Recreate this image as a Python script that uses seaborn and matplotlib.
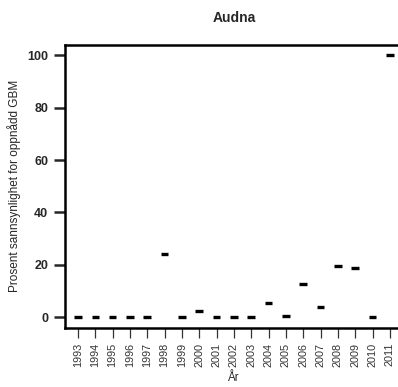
import pandas as pd
import matplotlib.pyplot as plt
import seaborn as sns

# data
years = [str(y) for y in range(1993, 2012)]
values = [0, 0, 0, 0, 0, 24.1, 0, 2.2, 0, 0, 0, 5.4, 0.6, 12.6, 4.0, 19.4, 18.9, 0, 100]

df = pd.DataFrame({"year": years, "value": values})

sns.set_style("white")
plt.rcParams["font.family"] = ["Liberation Sans", "DejaVu Sans"]

fig = plt.figure(figsize=(3.98, 3.87), dpi=100)
# axes runs past the right edge, like the cropped original
ax = fig.add_axes([0.1633, 0.1532, 0.849, 0.7313])

sns.boxplot(data=df, x="year", y="value", order=years, ax=ax,
            width=0.44, color="black", linewidth=0, fliersize=0,
            showcaps=False, whis=0,
            medianprops=dict(color="black", linewidth=2.4, solid_capstyle="butt"))

ax.set_xlim(-0.75, 18.75)
ax.set_ylim(-4, 104)
ax.set_yticks([0, 20, 40, 60, 80, 100])

for side in ["left", "bottom", "top", "right"]:
    ax.spines[side].set_visible(True)
    ax.spines[side].set_linewidth(1.8)
    ax.spines[side].set_color("black")

ax.tick_params(axis="y", length=8, width=1.8, labelsize=9, pad=4, left=True)
ax.tick_params(axis="x", length=7, width=0.9, labelsize=7.8, pad=4, bottom=True,
               rotation=90, colors="#333333")
for lab in ax.get_yticklabels():
    lab.set_fontweight("bold")

ax.set_xlabel("År", fontsize=8.3, va="bottom")
ax.xaxis.set_label_coords(0.5, -0.2)
ax.set_ylabel("Prosent sannsynlighet for oppnådd GBM", fontsize=8.5)
ax.yaxis.set_label_coords(-0.13, 0.5)
ax.set_title("Audna", fontsize=10, fontweight="bold", pad=16)

fig.savefig("out.png", dpi=100)
